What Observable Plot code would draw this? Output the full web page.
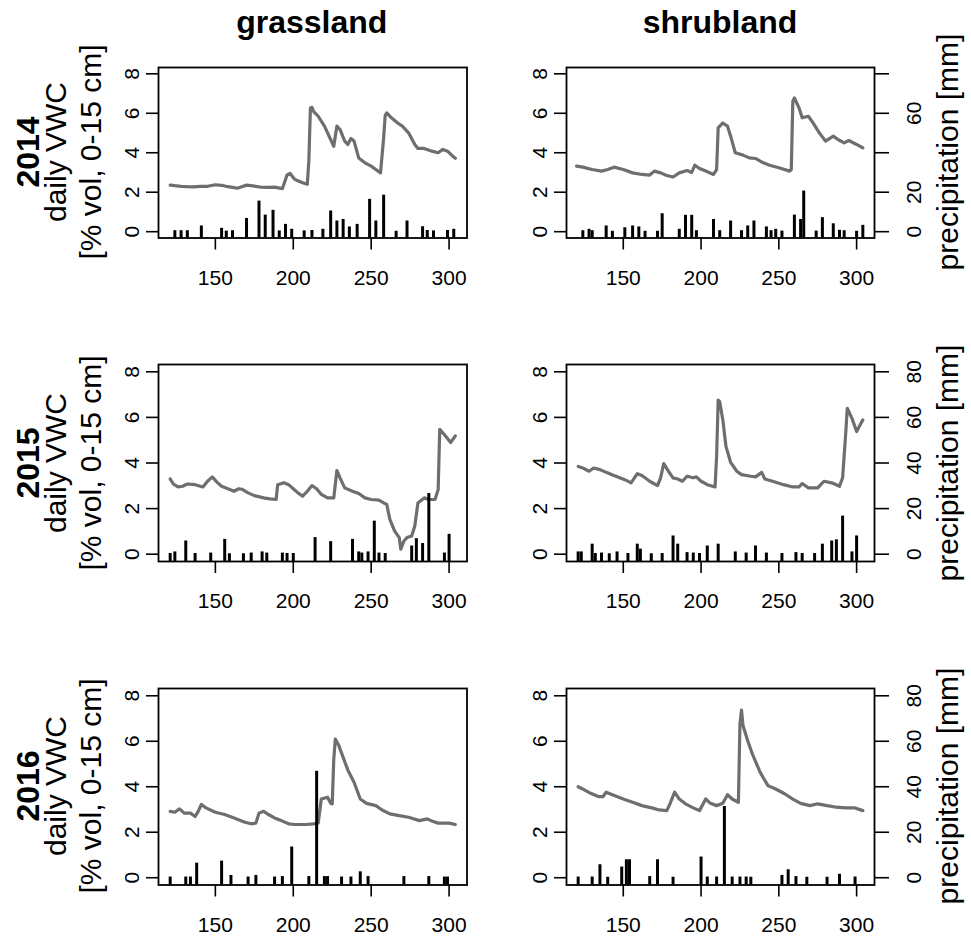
<!DOCTYPE html>
<html><head><meta charset="utf-8">
<script src="https://cdn.jsdelivr.net/npm/d3@7"></script>
<script src="https://cdn.jsdelivr.net/npm/@observablehq/plot@0.6"></script>
<style>
body{margin:0;background:#fff;}
#root{position:relative;width:971px;height:940px;overflow:hidden;font-family:"Liberation Sans",Arial,sans-serif;color:#000;}
.lab{position:absolute;white-space:nowrap;line-height:1;transform:translate(-50%,-50%) rotate(-90deg);}
.ttl{position:absolute;white-space:nowrap;line-height:1;transform:translate(-50%,-50%);font-weight:bold;}
</style></head><body><div id="root"></div>
<script>
// ---- labels / ticks ----
const columns = ["grassland", "shrubland"];
const years = ["2014", "2015", "2016"];
const yLabelLine1 = "daily VWC";
const yLabelLine2 = "[% vol, 0-15 cm]";
const rightLabel = "precipitation [mm]";
const dayTicks = [150, 200, 250, 300];
const vwcTicks = [0, 2, 4, 6, 8];
const precipTicks = [0, 20, 40, 60, 80];
const precipTickLabels2014 = ["0", "20", "", "60", ""];
const precipTickLabels = ["0", "20", "40", "60", "80"];

// ---- grassland 2014 ----
const vwcDays_g2014 = [121,124,128,132,136,140,145,150,154,158,162,164,167,170,174,179,184,188,193,196,198,201,203,206,209,210,211,212,213,216,220,224,226,228,230,233,235,237,239,242,246,250,253,256,258,259,260,263,267,270,274,278,280,284,289,293,296,299,302,304];
const vwc_g2014 = [2.36,2.33,2.30,2.28,2.27,2.30,2.30,2.38,2.35,2.28,2.23,2.20,2.28,2.36,2.32,2.26,2.25,2.26,2.18,2.87,2.95,2.65,2.58,2.48,2.40,3.60,6.27,6.30,6.10,5.85,5.35,4.67,4.33,5.35,5.18,4.59,4.42,4.72,4.59,3.74,3.49,3.32,3.15,2.98,4.76,5.90,6.02,5.77,5.51,5.35,5.01,4.42,4.22,4.22,4.08,4.00,4.17,4.08,3.85,3.72];
const rainDays_g2014 = [124,128,132,141,154,157,161,170,178,182,187,191,195,199,207,212,219,224,228,232,236,241,249,253,258,266,273,283,286,290,299,303];
const rain_g2014 = [0.5,0.5,0.5,2.9,1.7,0.3,0.5,6.7,15.5,8.4,10.8,0.4,3.7,1.2,0.4,0.6,1.2,10.5,5.4,6.2,2.4,3.7,16.4,5.4,18.5,0.2,5.4,2.5,0.6,0.4,0.6,1.2];

// ---- shrubland 2014 ----
const vwcDays_s2014 = [120,124,130,136,140,144,150,156,162,167,170,174,178,182,186,191,194,196,199,203,208,210,211,214,217,219,222,227,231,235,240,244,250,257,258,259,260,263,265,269,272,276,280,285,288,292,295,300,304];
const vwc_s2014 = [3.32,3.27,3.15,3.07,3.15,3.27,3.15,2.98,2.90,2.87,3.07,2.98,2.85,2.77,2.98,3.10,3.00,3.37,3.20,3.07,2.90,3.15,5.26,5.51,5.35,4.84,4.00,3.88,3.74,3.71,3.49,3.37,3.24,3.07,3.15,6.61,6.78,6.27,5.77,5.85,5.51,5.01,4.59,4.84,4.67,4.50,4.62,4.42,4.25];
const rainDays_s2014 = [124,128,130,139,143,151,156,160,164,172,175,186,190,194,197,208,212,219,226,230,234,242,245,248,252,260,264,266,274,278,285,289,292,300,304];
const rain_s2014 = [0.5,1.2,0.5,2.9,0.2,2.0,2.9,2.4,0.2,0.2,9.1,1.2,8.3,8.3,0.5,6.2,0.5,5.4,0.5,2.9,5.4,2.4,0.5,1.2,0.3,8.4,6.2,20.6,0.3,7.1,4.0,0.7,0.5,0.2,3.2];

// ---- grassland 2015 ----
const vwcDays_g2015 = [121,123,126,129,132,137,142,145,148,151,154,158,162,165,167,171,175,181,185,189,190,194,197,200,203,206,209,212,215,218,222,226,228,230,233,238,242,246,250,255,258,260,262,265,268,269,271,273,276,278,280,284,287,291,293,294,298,301,304];
const vwc_g2015 = [3.30,3.08,2.95,2.98,3.08,3.05,2.95,3.20,3.39,3.16,2.98,2.87,2.76,2.87,2.85,2.69,2.57,2.47,2.43,2.40,3.05,3.13,3.05,2.87,2.69,2.55,2.76,3.01,2.87,2.62,2.47,2.47,3.67,3.35,2.91,2.76,2.66,2.47,2.40,2.37,2.25,2.18,1.53,1.02,0.73,0.22,0.58,0.73,0.80,1.24,2.25,2.47,2.40,2.40,2.84,5.48,5.16,4.90,5.19];
const rainDays_g2015 = [121,124,131,137,147,156,159,168,173,180,183,193,196,200,214,224,238,242,244,248,252,255,259,276,279,283,287,297,300];
const rain_g2015 = [0.3,1.0,5.8,0.3,0.5,6.5,0.2,0.2,0.5,1.0,0.5,0.5,0.3,0.3,7.3,5.5,6.5,1.0,0.5,1.0,14.5,0.5,0.3,3.6,6.8,4.7,26.6,0.5,8.7];

// ---- shrubland 2015 ----
const vwcDays_s2015 = [121,124,128,131,135,139,144,151,155,159,162,167,172,174,176,179,182,185,188,191,195,197,200,204,209,210,211,212,214,216,219,223,226,232,235,239,241,246,253,259,263,265,269,275,279,284,289,291,293,294,297,300,303,304];
const vwc_s2015 = [3.85,3.78,3.64,3.78,3.71,3.59,3.45,3.27,3.13,3.53,3.45,3.20,3.01,3.35,3.97,3.64,3.35,3.30,3.20,3.42,3.35,3.39,3.20,3.05,2.95,4.29,6.76,6.69,5.89,4.73,4.03,3.64,3.49,3.42,3.39,3.59,3.30,3.20,3.05,2.95,2.95,3.10,2.91,2.91,3.20,3.13,2.98,3.35,5.31,6.40,5.96,5.38,5.77,5.89];
const rainDays_s2015 = [121,123,130,132,136,141,146,153,159,161,168,175,182,185,191,195,199,204,211,222,229,235,242,252,261,265,273,278,284,287,291,297,300];
const rain_s2015 = [1.0,1.0,4.4,0.3,0.5,0.2,1.0,0.3,4.4,2.2,0.2,0.3,8.0,4.4,0.7,0.5,0.3,3.6,4.4,1.0,0.5,3.6,0.5,0.3,0.7,0.3,0.3,4.4,5.8,6.3,16.7,1.0,8.0];

// ---- grassland 2016 ----
const vwcDays_g2016 = [121,124,127,130,134,137,139,141,144,150,156,162,169,173,176,178,181,184,188,193,197,201,208,213,216,218,222,224,225,226,227,229,232,235,239,243,247,253,257,262,268,274,281,286,289,293,300,304];
const vwc_g2016 = [2.92,2.88,3.03,2.84,2.84,2.69,2.92,3.22,3.07,2.88,2.78,2.63,2.44,2.37,2.40,2.84,2.92,2.78,2.63,2.49,2.37,2.34,2.34,2.37,2.40,3.46,3.54,3.27,3.25,5.22,6.10,5.85,5.29,4.74,4.20,3.46,3.27,3.17,2.98,2.81,2.73,2.66,2.51,2.59,2.49,2.40,2.40,2.34];
const rainDays_g2016 = [121,131,134,138,154,160,171,176,188,193,199,210,215,220,222,231,237,243,248,271,287,297,299];
const rain_g2016 = [0.3,0.3,0.3,6.4,7.3,1.0,0.3,1.0,0.3,0.5,13.5,0.5,46.8,0.5,0.5,0.3,0.3,2.6,0.5,0.5,0.5,0.3,0.3];

// ---- shrubland 2016 ----
const vwcDays_s2016 = [121,125,129,134,137,139,143,150,156,162,169,173,178,180,183,186,190,195,199,203,206,210,214,217,220,224,225,226,227,230,233,238,243,248,254,259,264,270,275,281,287,293,299,304];
const vwc_s2016 = [4.00,3.86,3.71,3.57,3.57,3.76,3.65,3.46,3.32,3.17,3.06,2.98,2.95,3.25,3.76,3.46,3.25,3.07,2.95,3.46,3.27,3.17,3.27,3.65,3.46,3.32,6.75,7.37,6.68,6.02,5.44,4.63,4.05,3.90,3.68,3.46,3.27,3.17,3.25,3.17,3.10,3.07,3.07,2.95];
const rainDays_s2016 = [121,130,135,140,149,152,154,167,172,182,200,204,210,215,220,225,229,232,252,256,261,268,281,289,299];
const rain_s2016 = [0.3,0.3,5.7,0.2,4.7,7.9,7.9,0.5,7.9,0.2,9.1,0.3,0.3,31.3,0.3,0.3,0.3,0.2,1.0,3.5,0.5,0.2,0.2,1.5,0.3];

// ---- layout ----
const root = document.getElementById("root");
const FONT = "'Liberation Sans', Arial, sans-serif";
const lineColor = "#6e6e6e";
const xDomain = [113.5, 311.5];
const yDomain = [-0.32, 8.32];
const colBox = [[157.5, 466], [566, 874]];
const rowBox = [[66.5, 237], [364, 561], [687.5, 884]];

const panels = [
  [[vwcDays_g2014, vwc_g2014, rainDays_g2014, rain_g2014], [vwcDays_s2014, vwc_s2014, rainDays_s2014, rain_s2014]],
  [[vwcDays_g2015, vwc_g2015, rainDays_g2015, rain_g2015], [vwcDays_s2015, vwc_s2015, rainDays_s2015, rain_s2015]],
  [[vwcDays_g2016, vwc_g2016, rainDays_g2016, rain_g2016], [vwcDays_s2016, vwc_s2016, rainDays_s2016, rain_s2016]]
];

function drawPanel(r, c) {
  const [days, vwc, rdays, rain] = panels[r][c];
  const [left, right] = colBox[c];
  const [top, bottom] = rowBox[r];
  const mL = 60, mR = 70, mT = 10, mB = 60;
  const line = days.map((d, i) => ({day: d, v: vwc[i]}));
  const bars = rdays.map((d, i) => ({day: d, mm: rain[i]}));
  const marks = [
    Plot.line(line, {x: "day", y: "v", stroke: lineColor, strokeWidth: 3.2, strokeLinejoin: "round"}),
    Plot.ruleX(bars, {x: "day", y1: yDomain[0], y2: d => d.mm / 10, stroke: "black", strokeWidth: 3}),
    Plot.frame({stroke: "black", strokeWidth: 1.8}),
    Plot.axisX({ticks: dayTicks, tickSize: 12, tickPadding: 20, fontSize: 21, label: null, strokeWidth: 1.6, tickFormat: d => String(d)}),
    Plot.axisY({ticks: vwcTicks, tickSize: 12, tickPadding: 8, tickRotate: -90, lineAnchor: "bottom", fontSize: 21, label: null, strokeWidth: 1.6, tickFormat: d => String(d)})
  ];
  if (c === 1) {
    const labels = r === 0 ? precipTickLabels2014 : precipTickLabels;
    const m = new Map(precipTicks.map((t, i) => [t / 10, labels[i]]));
    marks.push(Plot.axisY({anchor: "right", ticks: precipTicks.map(t => t / 10), tickSize: 14, tickPadding: 17.5, tickRotate: -90, lineAnchor: "top", fontSize: 21, label: null, strokeWidth: 1.6, tickFormat: d => m.get(d) ?? ""}));
  }
  const svg = Plot.plot({
    width: (right - left) + mL + mR,
    height: (bottom - top) + mT + mB,
    marginLeft: mL, marginRight: mR, marginTop: mT, marginBottom: mB,
    x: {domain: xDomain},
    y: {domain: yDomain},
    style: {fontFamily: FONT, color: "black", background: "transparent", overflow: "visible"},
    marks
  });
  svg.style.position = "absolute";
  svg.style.left = (left - mL) + "px";
  svg.style.top = (top - mT) + "px";
  root.appendChild(svg);
}

for (let r = 0; r < 3; r++) for (let c = 0; c < 2; c++) drawPanel(r, c);

function addText(cls, text, x, y, size, bold) {
  const d = document.createElement("div");
  d.className = cls;
  d.textContent = text;
  d.style.left = x + "px";
  d.style.top = y + "px";
  d.style.fontSize = size + "px";
  if (bold) d.style.fontWeight = "bold";
  root.appendChild(d);
}

// column titles
columns.forEach((t, c) => addText("ttl", t, (colBox[c][0] + colBox[c][1]) / 2, 33 - 0.3465 * 32, 32, true));
// row labels
years.forEach((yr, r) => {
  const cy = (rowBox[r][0] + rowBox[r][1]) / 2;
  addText("lab", yr, 39 - 0.3465 * 32, cy, 32, true);
  addText("lab", yLabelLine1, 66.5 - 0.3465 * 30, cy, 30, false);
  addText("lab", yLabelLine2, 101.5 - 0.3465 * 30, cy, 30, false);
  addText("lab", rightLabel, 958.5 - 0.3465 * 30, cy, 30, false);
});
</script></body></html>
